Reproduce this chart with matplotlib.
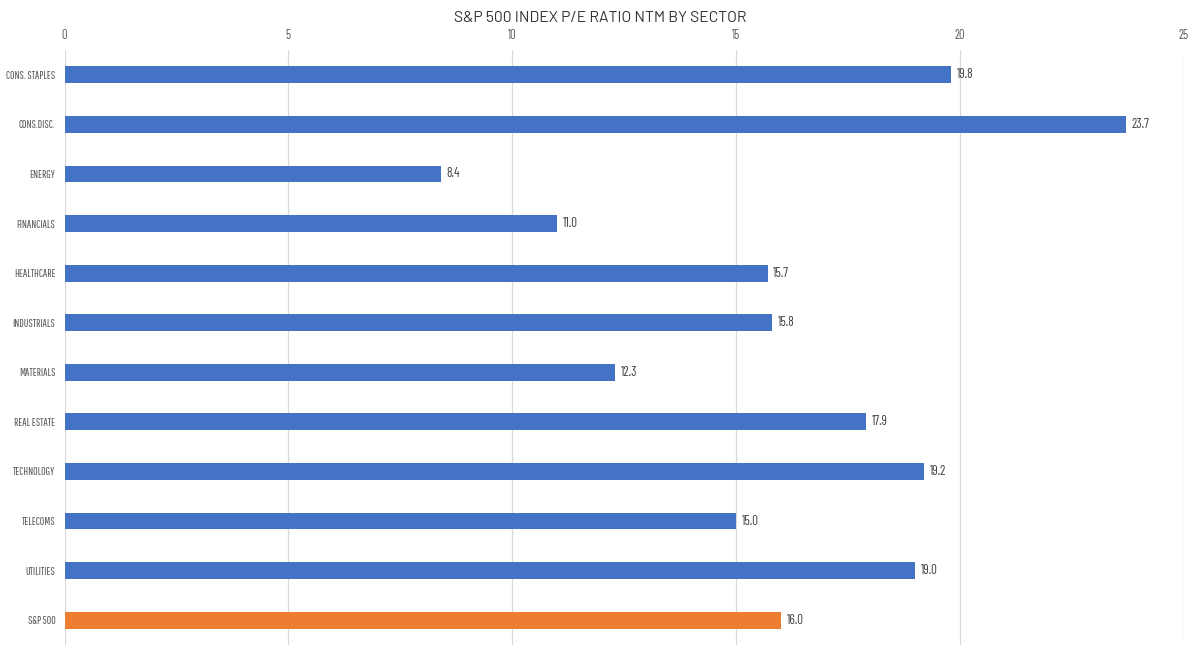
import matplotlib
matplotlib.use("Agg")
import matplotlib.pyplot as plt

categories = ["CONS. STAPLES", "CONS.DISC.", "ENERGY", "FINANCIALS", "HEALTHCARE",
              "INDUSTRIALS", "MATERIALS", "REAL ESTATE", "TECHNOLOGY", "TELECOMS",
              "UTILITIES", "S&P 500"]
values = [19.8, 23.7, 8.4, 11.0, 15.7, 15.8, 12.3, 17.9, 19.2, 15.0, 19.0, 16.0]
x_ticks = [0, 5, 10, 15, 20, 25]
title = "S&P 500 INDEX P/E RATIO NTM BY SECTOR"

COND = ["Pathway Gothic One", "Barlow Condensed", "Roboto Condensed", "DejaVu Sans"]
NUM = ["Barlow Condensed", "Roboto Condensed", "DejaVu Sans"]
REG = ["Barlow", "Roboto", "DejaVu Sans"]
plt.rcParams['font.family'] = COND

colors = ["#4472C4"] * (len(values) - 1) + ["#ED7D31"]

fig = plt.figure(figsize=(12, 6.56), dpi=100)
renderer = fig.canvas.get_renderer()


def fit_size(text, family, target_px):
    t = fig.text(0, 0, text, family=family, fontsize=10)
    w = t.get_window_extent(renderer).width
    t.remove()
    return 10 * target_px / w


lab_size = fit_size("CONS. STAPLES", COND, 49)
val_size = fit_size("19.8", NUM, 16.5)
tick_size = fit_size("20", NUM, 10.5)
title_size = fit_size(title, REG, 290)

ax = fig.add_axes([0.05375, 0.0168, 0.9329, 0.907])
y = list(range(len(categories)))
ax.barh(y, values, height=0.34, color=colors, zorder=2)
ax.set_ylim(len(categories) - 0.5, -0.5)
ax.set_xlim(0, 25)
ax.set_xticks(x_ticks)
ax.xaxis.tick_top()
ax.set_yticks(y)
ax.set_yticklabels(categories, fontsize=lab_size)
ax.set_xticklabels([str(t) for t in x_ticks], fontsize=tick_size, family=NUM)
ax.tick_params(axis='both', length=0, colors="#595959")
ax.tick_params(axis='x', pad=6)
ax.tick_params(axis='y', pad=6.5)
ax.grid(axis='x', color="#D9D9D9", linewidth=0.9, zorder=0)
for s in ax.spines.values():
    s.set_visible(False)
for yi, v in zip(y, values):
    ax.text(v + 0.13, yi, f"{v:.1f}", va='center', ha='left', fontsize=val_size,
            family=NUM, color="#404040")
fig.text(0.5, 0.973, title, ha='center', va='center', family=REG,
         fontsize=title_size, color="#333333")
fig.savefig("out.png", dpi=100)
